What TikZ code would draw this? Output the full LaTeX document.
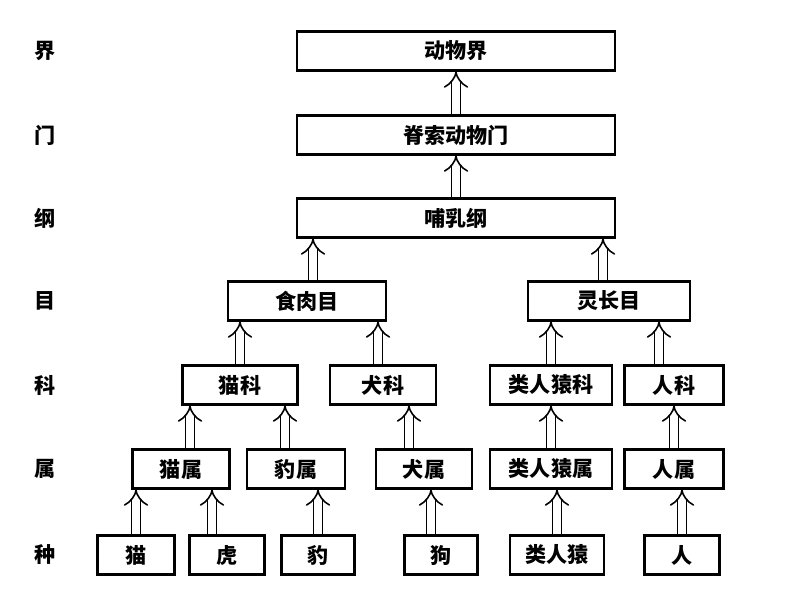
\documentclass[tikz,border=0pt]{standalone}
\usepackage{fontspec}
\setmainfont{Noto Sans CJK SC}
\usetikzlibrary{arrows.meta,positioning}

\begin{document}
\begin{tikzpicture}[x=0.02cm,y=-0.02cm]
	\tikzset{box/.style={draw, line width=1.2pt, minimum height=0.78cm, inner sep=0pt, font=\large\bfseries},
		lvl/.style={font=\large\bfseries},
		arr/.style={double, double distance=4pt, line width=0.9pt, -{Implies[length=8pt]}}}
	\useasboundingbox (0,0) rectangle (794,596);
	% levels
	\node[lvl] (l1) at (45,51) {界};
	\node[lvl] (l2) at (45,135) {门};
	\node[lvl] (l3) at (45,218) {纲};
	\node[lvl] (l4) at (45,301) {目};
	\node[lvl] (l5) at (45,385) {科};
	\node[lvl] (l6) at (45,469) {属};
	\node[lvl] (l7) at (45,555) {种};
	% boxes
	\node[box, minimum width=6.36cm] (jie) at (456,51) {动物界};
	\node[box, minimum width=6.36cm] (men) at (456,135) {脊索动物门};
	\node[box, minimum width=6.36cm] (gang) at (456,218) {哺乳纲};
	\node[box, minimum width=3.16cm] (shirou) at (307,301) {食肉目};
	\node[box, minimum width=3.24cm] (lingzhang) at (609,301) {灵长目};
	\node[box, minimum width=2.3cm] (maoke) at (240,385) {猫科};
	\node[box, minimum width=2.12cm] (quanke) at (383,385) {犬科};
	\node[box, minimum width=2.44cm] (yuanke) at (551,385) {类人猿科};
	\node[box, minimum width=1.98cm] (renke) at (674,385) {人科};
	\node[box, minimum width=1.94cm] (maoshu) at (181,469) {猫属};
	\node[box, minimum width=1.96cm] (baoshu) at (296,469) {豹属};
	\node[box, minimum width=1.92cm] (quanshu) at (424,469) {犬属};
	\node[box, minimum width=2.44cm] (yuanshu) at (551,469) {类人猿属};
	\node[box, minimum width=1.98cm] (renshu) at (674,469) {人属};
	\node[box, minimum width=1.54cm] (mao) at (136,555) {猫};
	\node[box, minimum width=1.5cm] (hu) at (227,555) {虎};
	\node[box, minimum width=1.46cm] (bao) at (318,555) {豹};
	\node[box, minimum width=1.46cm] (gou) at (441,555) {狗};
	\node[box, minimum width=1.88cm] (yuan) at (557,555) {类人猿};
	\node[box, minimum width=1.5cm] (ren) at (682,555) {人};
	% arrows
	\draw[arr] (men.north) -- (jie.south);
	\draw[arr] (gang.north) -- (men.south);
	\draw[arr] ([xshift=0.12cm]shirou.north) -- ([xshift=0.12cm]shirou.north |- gang.south);
	\draw[arr] ([xshift=-0.12cm]lingzhang.north) -- ([xshift=-0.12cm]lingzhang.north |- gang.south);
	\draw[arr] (maoke.north) -- (maoke.north |- shirou.south);
	\draw[arr] ([xshift=-0.1cm]quanke.north) -- ([xshift=-0.1cm]quanke.north |- shirou.south);
	\draw[arr] (yuanke.north) -- (yuanke.north |- lingzhang.south);
	\draw[arr] ([xshift=-0.3cm]renke.north) -- ([xshift=-0.3cm]renke.north |- lingzhang.south);
	\draw[arr] ([xshift=0.18cm]maoshu.north) -- ([xshift=0.18cm]maoshu.north |- maoke.south);
	\draw[arr] ([xshift=-0.22cm]baoshu.north) -- ([xshift=-0.22cm]baoshu.north |- maoke.south);
	\draw[arr] ([xshift=-0.3cm]quanshu.north) -- ([xshift=-0.3cm]quanshu.north |- quanke.south);
	\draw[arr] (yuanshu.north) -- (yuanke.south);
	\draw[arr] (renshu.north) -- (renke.south);
	\draw[arr] (mao.north) -- (mao.north |- maoshu.south);
	\draw[arr] ([xshift=-0.3cm]hu.north) -- ([xshift=-0.3cm]hu.north |- maoshu.south);
	\draw[arr] (bao.north) -- (bao.north |- baoshu.south);
	\draw[arr] ([xshift=-0.2cm]gou.north) -- ([xshift=-0.2cm]gou.north |- quanshu.south);
	\draw[arr] (yuan.north) -- (yuan.north |- yuanshu.south);
	\draw[arr] (ren.north) -- (ren.north |- renshu.south);
\end{tikzpicture}
\end{document}
